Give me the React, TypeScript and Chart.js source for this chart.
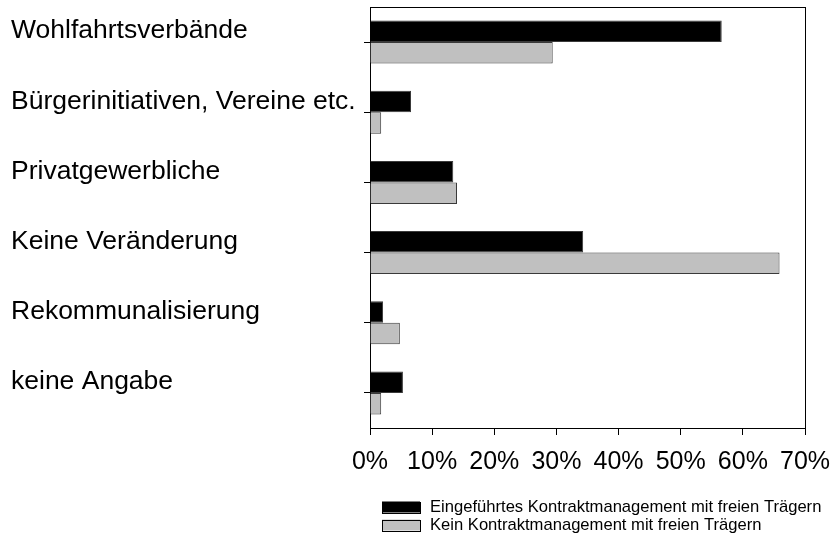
import React, { useEffect, useRef } from "react";
import { Chart, registerables } from "chart.js";

Chart.register(...registerables);

const categories = [
  "Wohlfahrtsverbände",
  "Bürgerinitiativen, Vereine etc.",
  "Privatgewerbliche",
  "Keine Veränderung",
  "Rekommunalisierung",
  "keine Angabe",
];
const seriesNames = [
  "Eingeführtes Kontraktmanagement mit freien Trägern",
  "Kein Kontraktmanagement mit freien Trägern",
];
const withContract = [56.6, 6.6, 13.4, 34.3, 2.1, 5.3];
const withoutContract = [29.4, 1.8, 14.0, 65.9, 4.8, 1.8];
const xTicks = [0, 10, 20, 30, 40, 50, 60, 70];

const FONT = "'Liberation Sans', Arial, Helvetica, sans-serif";

const framePlugin = {
  id: "frameAndLegend",
  afterDatasetsDraw(chart: any) {
    const { ctx, chartArea } = chart;
    ctx.save();
    ctx.strokeStyle = "#000";
    ctx.lineWidth = 1;
    ctx.beginPath();
    ctx.moveTo(chartArea.left, Math.round(chartArea.top) + 0.5);
    ctx.lineTo(chartArea.right, Math.round(chartArea.top) + 0.5);
    ctx.moveTo(Math.round(chartArea.right) + 0.5, chartArea.top);
    ctx.lineTo(Math.round(chartArea.right) + 0.5, chartArea.bottom);
    ctx.stroke();
    ctx.restore();
  },
  afterDraw(chart: any) {
    const { ctx } = chart;
    ctx.save();
    const boxX = 382;
    const boxW = 38;
    const boxH = 11;
    const rowY = [507, 525];
    chart.data.datasets.forEach((ds: any, i: number) => {
      const cy = rowY[i];
      ctx.fillStyle = ds.backgroundColor;
      ctx.fillRect(boxX, cy - boxH / 2, boxW, boxH);
      ctx.strokeStyle = "#000";
      ctx.lineWidth = 1;
      ctx.strokeRect(boxX + 0.5, Math.round(cy - boxH / 2) + 0.5, boxW, boxH);
      ctx.fillStyle = "#000";
      ctx.font = `16.6px ${FONT}`;
      ctx.textAlign = "left";
      ctx.textBaseline = "middle";
      ctx.fillText(ds.label, 430, cy);
    });
    ctx.restore();
  },
};

export default function App() {
  const ref = useRef<HTMLCanvasElement | null>(null);
  useEffect(() => {
    if (!ref.current) return;
    const chart = new Chart(ref.current, {
      type: "bar",
      data: {
        labels: categories,
        datasets: [
          {
            label: seriesNames[0],
            data: withContract,
            backgroundColor: "#000000",
            borderColor: "#3a3a3a",
            borderWidth: 1,
            categoryPercentage: 0.614,
            barPercentage: 1,
          },
          {
            label: seriesNames[1],
            data: withoutContract,
            backgroundColor: "#c0c0c0",
            borderColor: "#3a3a3a",
            borderWidth: 1,
            categoryPercentage: 0.614,
            barPercentage: 1,
          },
        ],
      },
      options: {
        indexAxis: "y",
        animation: false,
        responsive: false,
        maintainAspectRatio: false,
        layout: { padding: { left: 11, top: 7, right: 32, bottom: 63 } },
        plugins: {
          legend: { display: false },
          tooltip: { enabled: false },
        },
        scales: {
          x: {
            type: "linear",
            min: 0,
            max: 70,
            afterBuildTicks: (scale: any) => {
              scale.ticks = xTicks.map((v) => ({ value: v }));
            },
            afterFit: (scale: any) => {
              scale.paddingLeft = 0;
              scale.paddingRight = 0;
              scale.height = 49;
            },
            ticks: {
              color: "#000",
              font: { family: FONT, size: 25 },
              padding: 12,
              maxRotation: 0,
              autoSkip: false,
              callback: (v: any) => `${v}%`,
            },
            grid: {
              drawOnChartArea: false,
              drawTicks: true,
              tickLength: 7,
              color: "#000",
            },
            border: { color: "#000", width: 1 },
          },
          y: {
            type: "category",
            offset: true,
            afterFit: (scale: any) => {
              scale.width = 359;
              scale.paddingTop = 0;
              scale.paddingBottom = 0;
            },
            ticks: {
              color: "#000",
              font: { family: FONT, size: 26.5 },
              crossAlign: "far",
              labelOffset: -11,
              padding: 0,
              autoSkip: false,
            },
            grid: {
              offset: false,
              drawOnChartArea: false,
              drawTicks: true,
              tickLength: 6,
              color: "#000",
            },
            border: { color: "#000", width: 1 },
          },
        },
      },
      plugins: [framePlugin],
    });
    return () => chart.destroy();
  }, []);
  return (
    <div style={{ position: "fixed", left: 0, top: 0, width: 837, height: 540, background: "#fff" }}>
      <canvas ref={ref} width={837} height={540} style={{ width: 837, height: 540, display: "block" }} />
    </div>
  );
}
